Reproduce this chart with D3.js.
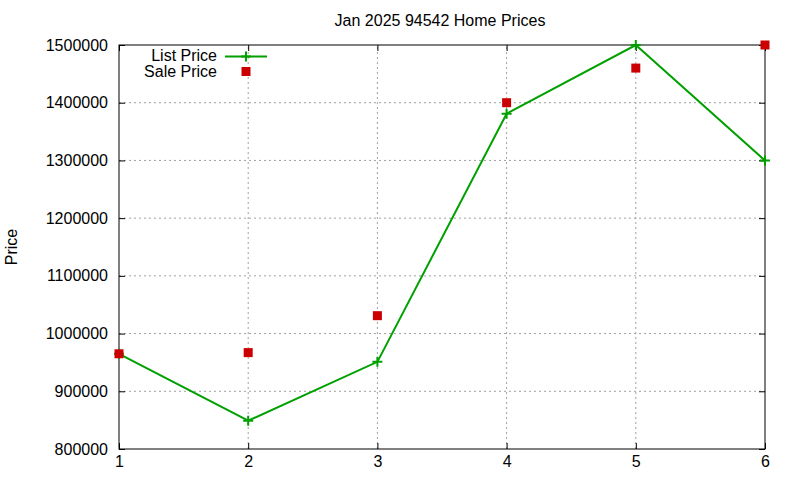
<!DOCTYPE html>
<html>
<head>
<meta charset="utf-8">
<script src="https://cdn.jsdelivr.net/npm/d3@7"></script>
<style>
  body { margin: 0; background: #fff; }
  text { font-family: "Liberation Sans", Arial, sans-serif; }
</style>
</head>
<body>
<svg id="grafico"></svg>
<script>
const largura = 800;
const altura = 480;
const margem = { top: 45, right: 35, bottom: 31, left: 119 };

// Dados
const meses = [1, 2, 3, 4, 5, 6];
const listPrice = [965000, 849000, 951000, 1381000, 1500000, 1300000];
const salePrice = [965000, 967000, 1031000, 1400000, 1460000, 1500000];
const yTicks = [800000, 900000, 1000000, 1100000, 1200000, 1300000, 1400000, 1500000];

const svg = d3.select("#grafico")
  .attr("width", largura)
  .attr("height", altura);

const x = d3.scaleLinear()
  .domain([1, 6])
  .range([margem.left, largura - margem.right]);

const y = d3.scaleLinear()
  .domain([800000, 1500000])
  .range([altura - margem.bottom, margem.top]);

// Grade
svg.append("g")
  .selectAll("line")
  .data(meses.slice(1, -1))
  .join("line")
  .attr("x1", d => x(d)).attr("x2", d => x(d))
  .attr("y1", y(800000)).attr("y2", y(1500000))
  .attr("stroke", "#a0a0a0")
  .attr("stroke-dasharray", "2,3");

svg.append("g")
  .selectAll("line")
  .data(yTicks.slice(1, -1))
  .join("line")
  .attr("x1", x(1)).attr("x2", x(6))
  .attr("y1", d => y(d)).attr("y2", d => y(d))
  .attr("stroke", "#a0a0a0")
  .attr("stroke-dasharray", "2,3");

// Eixos
const eixoX = svg.append("g")
  .attr("transform", `translate(0, ${altura - margem.bottom})`)
  .call(d3.axisBottom(x).tickValues(meses).tickFormat(d3.format("d")).tickSizeInner(-6).tickSizeOuter(0).tickPadding(7));

const eixoXTop = svg.append("g")
  .attr("transform", `translate(0, ${margem.top})`)
  .call(d3.axisTop(x).tickValues(meses).tickFormat("").tickSizeInner(-6).tickSizeOuter(0));

const eixoY = svg.append("g")
  .attr("transform", `translate(${margem.left}, 0)`)
  .call(d3.axisLeft(y).tickValues(yTicks).tickFormat(d3.format("d")).tickSizeInner(-6).tickSizeOuter(0).tickPadding(11));

const eixoYDir = svg.append("g")
  .attr("transform", `translate(${largura - margem.right}, 0)`)
  .call(d3.axisRight(y).tickValues(yTicks).tickFormat("").tickSizeInner(-6).tickSizeOuter(0));

[eixoX, eixoXTop, eixoY, eixoYDir].forEach(g => {
  g.select(".domain").remove();
  g.selectAll("line").attr("stroke", "#000");
  g.selectAll("text").attr("fill", "#000").style("font-size", "16px")
    .style("font-family", "'Liberation Sans', Arial, sans-serif");
});

// Borda
svg.append("rect")
  .attr("x", x(1)).attr("y", y(1500000))
  .attr("width", x(6) - x(1)).attr("height", y(800000) - y(1500000))
  .attr("fill", "none").attr("stroke", "#000").attr("stroke-width", 1);

// Linha List Price
const linha = d3.line()
  .x((d, i) => x(meses[i]))
  .y(d => y(d));

svg.append("path")
  .datum(listPrice)
  .attr("fill", "none")
  .attr("stroke", "#00a000")
  .attr("stroke-width", 2)
  .attr("d", linha);

function mais(g, cx, cy) {
  g.append("path")
    .attr("d", `M${cx - 5},${cy}H${cx + 5}M${cx},${cy - 5}V${cy + 5}`)
    .attr("stroke", "#00a000").attr("stroke-width", 2).attr("fill", "none");
}
listPrice.forEach((d, i) => mais(svg, x(meses[i]), y(d)));

// Pontos Sale Price
svg.append("g")
  .selectAll("rect")
  .data(salePrice)
  .join("rect")
  .attr("x", (d, i) => x(meses[i]) - 4.5)
  .attr("y", d => y(d) - 4.5)
  .attr("width", 9).attr("height", 9)
  .attr("fill", "#cc0000");

// Título
svg.append("text")
  .attr("x", 440).attr("y", 26)
  .attr("text-anchor", "middle")
  .style("font-size", "16px")
  .text("Jan 2025 94542 Home Prices");

// Rótulo Y
svg.append("text")
  .attr("transform", "translate(17, 247) rotate(-90)")
  .attr("text-anchor", "middle")
  .style("font-size", "16px")
  .text("Price");

// Legenda
const leg = svg.append("g");
leg.append("text").attr("x", 217).attr("y", 61).attr("text-anchor", "end")
  .style("font-size", "16px").text("List Price");
leg.append("line").attr("x1", 225).attr("x2", 267).attr("y1", 56.5).attr("y2", 56.5)
  .attr("stroke", "#00a000").attr("stroke-width", 2);
mais(leg, 246, 56.5);
leg.append("text").attr("x", 217).attr("y", 77).attr("text-anchor", "end")
  .style("font-size", "16px").text("Sale Price");
leg.append("rect").attr("x", 241.5).attr("y", 67).attr("width", 9).attr("height", 9)
  .attr("fill", "#cc0000");
</script>
</body>
</html>
